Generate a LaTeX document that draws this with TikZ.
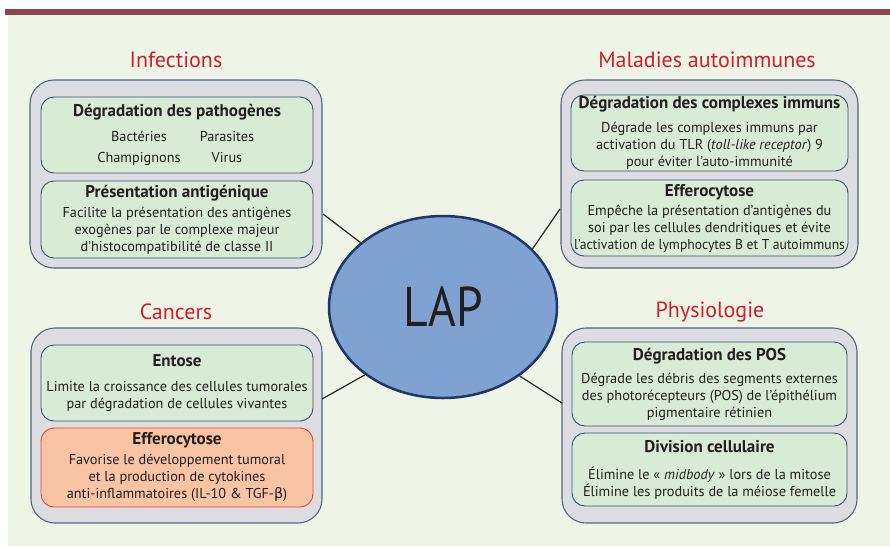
\documentclass[tikz,border=0pt]{standalone}
\usepackage{fontspec}
\setmainfont{PT Sans}
\newfontfamily\grkfont{DejaVu Sans}
\usetikzlibrary{shapes.geometric,shadows}
\definecolor{bgc}{HTML}{EEF4E6}
\definecolor{barc}{HTML}{8E4450}
\definecolor{outerfill}{HTML}{DCDDE1}
\definecolor{outerdraw}{HTML}{56657F}
\definecolor{innerfill}{HTML}{D8EBD4}
\definecolor{innerdraw}{HTML}{35507E}
\definecolor{salmonfill}{HTML}{F8C4A4}
\definecolor{redline}{HTML}{E8423C}
\definecolor{titlered}{HTML}{D01E2A}
\definecolor{lapfill}{HTML}{7FA2D3}
\definecolor{lapdraw}{HTML}{1F3767}
\definecolor{txtc}{HTML}{231F20}
\newcommand\boxhead[1]{{\fontsize{17}{17}\selectfont\bfseries #1}}
\begin{document}
\begin{tikzpicture}[x=1pt,y=-1pt,
 outerbox/.style={draw=outerdraw, fill=outerfill, line width=1.1pt, rounded corners=24pt, inner sep=0},
 innerbox/.style={draw=innerdraw, fill=innerfill, line width=0.9pt, rounded corners=13pt, align=center, inner sep=0, text=txtc, font=\fontsize{14.3}{17}\selectfont},
 sectitle/.style={text=titlered, font=\fontsize{22}{24}\selectfont},
 link/.style={draw=black!85, line width=1.2pt},
]
\useasboundingbox (0,0) rectangle (890,547);
\fill[white] (0,0) rectangle (890,547);
\fill[bgc] (8,14) rectangle (890,546);
\fill[barc] (5,9) rectangle (890,14.5);

% section titles
\node[sectitle] (t1) at (176,60) {Infections};
\node[sectitle] (t2) at (707,60) {Maladies autoimmunes};
\node[sectitle] (t3) at (176,312) {Cancers};
\node[sectitle] (t4) at (710,312) {Physiologie};

% outer boxes
\node[outerbox, minimum width=292pt, minimum height=188pt] (tlo) at (176,174) {};
\node[outerbox, minimum width=297pt, minimum height=188pt] (tro) at (709.5,174) {};
\node[outerbox, minimum width=291pt, minimum height=195pt] (blo) at (176.5,425.5) {};
\node[outerbox, minimum width=295pt, minimum height=195pt] (bro) at (709.5,425.5) {};

% inner boxes - Infections
\node[innerbox, minimum width=272pt, minimum height=76pt] (tl1) at (177,135) {%
\boxhead{Dégradation des pathogènes}\\[8pt]
\hspace*{12pt}\makebox[88pt]{Bactéries}\makebox[88pt]{Parasites}\\[4pt]
\hspace*{12pt}\makebox[88pt]{Champignons}\makebox[88pt]{Virus}};
\node[innerbox, minimum width=272pt, minimum height=77pt] (tl2) at (177,219.5) {%
\boxhead{Présentation antigénique}\\[3pt]
Facilite la présentation des antigènes\\
exogènes par le complexe majeur\\
d’histocompatibilité de classe II};

% Maladies autoimmunes
\node[innerbox, minimum width=277pt, minimum height=76pt] (tr1) at (709.5,133) {%
\boxhead{Dégradation des complexes immuns}\\[7pt]
Dégrade les complexes immuns par\\
activation du TLR (\textit{toll-like receptor}) 9\\
pour éviter l’auto-immunité};
\node[innerbox, minimum width=277pt, minimum height=76pt] (tr2) at (709.5,218) {%
\boxhead{Efferocytose}\\[2pt]
Empêche la présentation d’antigènes du\\
soi par les cellules dendritiques et évite\\
\scalebox{0.95}[1]{l’activation de lymphocytes B et T autoimmuns}};

% Cancers
\node[innerbox, minimum width=272pt, minimum height=76pt] (bl1) at (177,383) {%
\boxhead{Entose}\\[8pt]
Limite la croissance des cellules tumorales\\
par dégradation de cellules vivantes};
\node[innerbox, draw=redline, fill=salmonfill, minimum width=272pt, minimum height=79pt] (bl2) at (177,467.5) {%
\boxhead{Efferocytose}\\[3pt]
Favorise le développement tumoral\\
et la production de cytokines\\
anti-inflammatoires (IL-10 \& TGF-{\grkfont β})};

% Physiologie
\node[innerbox, minimum width=275pt, minimum height=84pt] (br1) at (709.5,384) {%
\boxhead{Dégradation des POS}\\[6pt]
Dégrade les débris des segments externes\\
des photorécepteurs (POS) de l’épithélium\\
pigmentaire rétinien};
\node[innerbox, minimum width=275pt, minimum height=73pt] (br2) at (709.5,469.5) {%
\boxhead{Division cellulaire}\\[10pt]
Élimine le «~\textit{midbody}~» lors de la mitose\\
Élimine les produits de la méiose femelle};

% centre
\node[ellipse, draw=lapdraw, fill=lapfill, line width=2.5pt, minimum width=228pt, minimum height=182pt, inner sep=0,
  drop shadow={shadow xshift=1pt, shadow yshift=-1pt, opacity=0.25}, text=txtc,
  font=\fontsize{56}{60}\selectfont] (lap) at (443,307) {\scalebox{0.85}[1]{LAP}};

% connectors
\coordinate (c1) at (323,214);
\coordinate (c2) at (560,209);
\coordinate (c3) at (322,399);
\coordinate (c4) at (562,403);
\draw[link] (c1) -- (lap.142.8);
\draw[link] (c2) -- (lap.33.7);
\draw[link] (c3) -- (lap.221.3);
\draw[link] (c4) -- (lap.318);
\end{tikzpicture}
\end{document}
